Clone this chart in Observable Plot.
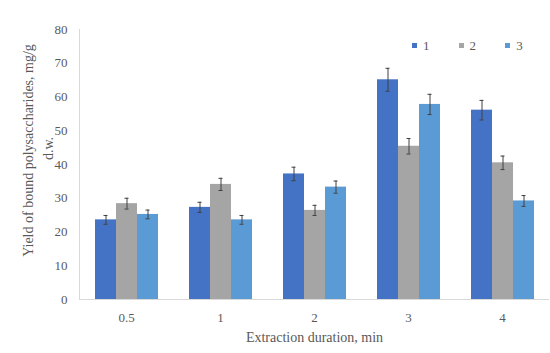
<!DOCTYPE html>
<html>
<head>
<meta charset="utf-8">
<script src="https://cdn.jsdelivr.net/npm/d3@7"></script>
<script src="https://cdn.jsdelivr.net/npm/@observablehq/plot@0.6"></script>
<style>
  body { margin: 0; background: white; }
  #wrap { position: relative; width: 550px; height: 353px; font-family: "Liberation Serif", "Times New Roman", serif; }
  #legend { position: absolute; left: 412px; top: 39px; display: flex; font-size: 13px; color: #595959; line-height: 13px; }
  #legend .item { display: flex; align-items: center; width: 46.6px; }
  #legend .sw { width: 5px; height: 5px; margin-right: 6px; }
</style>
</head>
<body>
<div id="wrap"></div>
<script>
const categories = ["0.5", "1", "2", "3", "4"];
const series = ["1", "2", "3"];
const colors = ["#4472C4", "#A5A5A5", "#5B9BD5"];
const values1 = [23.6, 27.3, 37.2, 65.1, 56.1];
const values2 = [28.4, 34.1, 26.4, 45.4, 40.5];
const values3 = [25.2, 23.6, 33.3, 57.8, 29.2];
const errors1 = [1.3, 1.5, 2.0, 3.4, 2.9];
const errors2 = [1.6, 1.8, 1.5, 2.3, 2.0];
const errors3 = [1.3, 1.3, 1.8, 3.0, 1.6];
const yTicks = [0, 10, 20, 30, 40, 50, 60, 70, 80];
const xTitle = "Extraction duration, min";
const yTitleLine1 = "Yield of bound polysaccharides, mg/g";
const yTitleLine2 = "d.w.";

const valueSets = [values1, values2, values3];
const errorSets = [errors1, errors2, errors3];
const data = [];
categories.forEach((c, i) => {
  series.forEach((s, j) => {
    data.push({cat: c, series: s, value: valueSets[j][i], err: errorSets[j][i]});
  });
});

const chart = Plot.plot({
  width: 550,
  height: 353,
  marginLeft: 78,
  marginRight: 0,
  marginTop: 29,
  marginBottom: 54,
  style: {fontFamily: "'Liberation Serif', 'Times New Roman', serif", fontSize: "13px", color: "#595959", background: "white"},
  fx: {domain: categories, paddingInner: 0, paddingOuter: 0},
  x: {domain: series, paddingInner: 0, paddingOuter: 0.645, axis: null},
  y: {domain: [0, 80]},
  color: {domain: series, range: colors},
  marks: [
    Plot.frame({anchor: "left", facetAnchor: "left", stroke: "#d9d9d9"}),
    Plot.barY(data, {fx: "cat", x: "series", y: "value", fill: "series"}),
    Plot.ruleY([0], {stroke: "#d9d9d9"}),
    Plot.ruleX(data, {fx: "cat", x: "series", y1: d => d.value - d.err, y2: d => d.value + d.err, stroke: "#404040", strokeWidth: 1}),
    Plot.tickY(data, {fx: "cat", x: "series", y: d => d.value - d.err, stroke: "#404040", insetLeft: 8.5, insetRight: 8.5}),
    Plot.tickY(data, {fx: "cat", x: "series", y: d => d.value + d.err, stroke: "#404040", insetLeft: 8.5, insetRight: 8.5}),
    Plot.axisY({ticks: yTicks, tickSize: 0, tickPadding: 12, label: null, fill: "#595959"}),
    Plot.text([yTitleLine1], {frameAnchor: "left", facetAnchor: "left", textAnchor: "middle", rotate: -90, dx: -51, dy: -14, fontSize: 14, fill: "#595959"}),
    Plot.text([yTitleLine2], {frameAnchor: "left", facetAnchor: "left", textAnchor: "middle", rotate: -90, dx: -31, dy: -16, fontSize: 14, fill: "#595959"}),
    Plot.axisFx({anchor: "bottom", tickSize: 0, tickPadding: 13, label: null, fill: "#595959"}),
    Plot.axisFx({anchor: "bottom", ticks: [], tickSize: 0, label: xTitle, labelAnchor: "center", labelArrow: "none", labelOffset: 42, fontSize: 14, fill: "#595959"})
  ]
});

const wrap = document.getElementById("wrap");
wrap.appendChild(chart);

const legend = d3.select(wrap).append("div").attr("id", "legend");
series.forEach((s, j) => {
  const item = legend.append("div").attr("class", "item");
  item.append("div").attr("class", "sw").style("background", colors[j]);
  item.append("span").text(s);
});
</script>
</body>
</html>
